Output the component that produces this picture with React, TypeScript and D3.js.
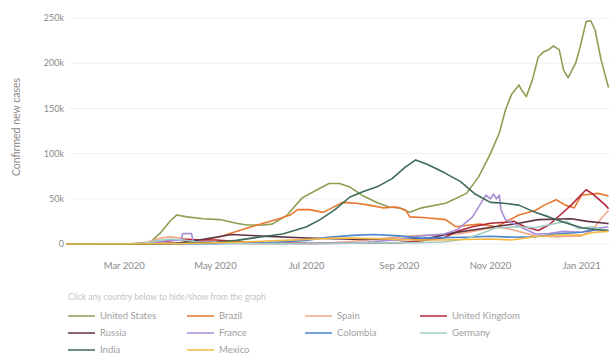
import React from "react";
import * as d3 from "d3";

type Pt = [string, number];

const countries = ["United States", "Brazil", "Spain", "United Kingdom", "Russia", "France", "Colombia", "Germany", "India", "Mexico"];
const colors = ["#8e9d52", "#e8772f", "#f0a888", "#b3263c", "#5e3448", "#a890d8", "#4a84cf", "#a2cbc3", "#3e6a58", "#f4b942"];

const unitedStates: Pt[] = [["2020-01-22",0],["2020-03-05",0.3],["2020-03-18",1.5],["2020-03-25",12],["2020-04-01",26],["2020-04-05",32],["2020-04-12",30],["2020-04-23",28],["2020-05-04",27],["2020-05-15",23],["2020-05-22",21],["2020-06-02",21],["2020-06-08",22],["2020-06-18",32],["2020-06-28",51],["2020-07-08",60],["2020-07-16",67],["2020-07-23",67],["2020-07-30",63],["2020-08-07",54],["2020-08-17",46],["2020-08-25",41],["2020-09-01",40],["2020-09-08",35],["2020-09-16",40],["2020-10-02",45],["2020-10-16",56],["2020-10-24",74],["2020-11-01",100],["2020-11-07",123],["2020-11-11",148],["2020-11-15",165],["2020-11-20",176],["2020-11-22",170],["2020-11-25",163],["2020-11-29",181],["2020-12-03",207],["2020-12-07",213],["2020-12-10",215],["2020-12-13",219],["2020-12-17",215],["2020-12-20",192],["2020-12-23",184],["2020-12-28",200],["2020-12-31",218],["2021-01-04",246],["2021-01-07",247],["2021-01-10",237],["2021-01-14",204],["2021-01-19",173]];
const brazil: Pt[] = [["2020-01-22",0],["2020-03-20",0.1],["2020-04-05",1],["2020-04-20",3],["2020-05-04",8],["2020-05-17",15],["2020-06-02",23],["2020-06-11",27],["2020-06-20",32],["2020-06-25",38],["2020-07-03",38],["2020-07-12",35],["2020-07-18",40],["2020-07-25",46],["2020-08-03",45],["2020-08-12",43],["2020-08-21",40],["2020-08-30",41],["2020-09-05",38],["2020-09-08",30],["2020-09-19",29],["2020-10-02",27],["2020-10-09",19],["2020-10-18",21],["2020-10-25",22],["2020-11-05",19],["2020-11-12",25],["2020-11-20",32],["2020-12-01",37],["2020-12-07",43],["2020-12-15",49],["2020-12-21",43],["2020-12-27",40],["2021-01-01",54],["2021-01-12",56],["2021-01-19",53]];
const spain: Pt[] = [["2020-01-22",0],["2020-03-08",0.1],["2020-03-15",1.5],["2020-03-25",6.5],["2020-04-01",8],["2020-04-10",6],["2020-04-20",4],["2020-05-01",1.5],["2020-06-01",0.3],["2020-07-15",1],["2020-08-01",3],["2020-08-20",6],["2020-09-10",9],["2020-09-25",10],["2020-10-10",11],["2020-10-20",14],["2020-11-05",19],["2020-11-15",16],["2020-12-01",9],["2020-12-15",8],["2021-01-01",9],["2021-01-08",15],["2021-01-14",28],["2021-01-19",37]];
const unitedKingdom: Pt[] = [["2020-01-22",0],["2020-03-10",0.1],["2020-03-25",2.5],["2020-04-10",5],["2020-05-01",4.5],["2020-05-20",2.5],["2020-06-10",1.2],["2020-07-01",0.7],["2020-08-01",0.8],["2020-09-01",1.5],["2020-09-15",3.5],["2020-10-01",7],["2020-10-10",14],["2020-10-20",19],["2020-11-01",23],["2020-11-11",24],["2020-11-17",25],["2020-11-24",19],["2020-12-03",15],["2020-12-10",21],["2020-12-19",34],["2020-12-25",43],["2021-01-04",60],["2021-01-08",56],["2021-01-17",43],["2021-01-19",39]];
const russia: Pt[] = [["2020-01-22",0],["2020-03-20",0.05],["2020-04-05",0.8],["2020-04-20",4.5],["2020-05-01",7.5],["2020-05-12",10.5],["2020-06-01",8.7],["2020-07-01",6.6],["2020-08-01",5.4],["2020-09-01",4.8],["2020-09-20",6.2],["2020-10-06",12],["2020-10-20",15.5],["2020-11-04",19],["2020-11-20",23],["2020-12-03",27],["2020-12-25",28],["2021-01-05",25],["2021-01-17",23],["2021-01-19",22.5]];
const france: Pt[] = [["2020-01-22",0],["2020-03-10",0.3],["2020-03-20",1.5],["2020-04-01",4.5],["2020-04-08",4.2],["2020-04-09",11.5],["2020-04-15",11.5],["2020-04-16",2.8],["2020-05-01",1.2],["2020-06-01",0.5],["2020-07-01",0.6],["2020-08-01",1.2],["2020-08-15",2.5],["2020-09-01",5],["2020-09-15",9],["2020-10-01",11],["2020-10-10",16],["2020-10-20",30],["2020-10-29",54],["2020-11-01",50],["2020-11-03",55],["2020-11-05",50],["2020-11-07",54],["2020-11-08",38],["2020-11-11",27],["2020-11-20",20],["2020-12-01",11],["2020-12-10",11.5],["2020-12-20",14],["2021-01-01",13],["2021-01-10",17],["2021-01-19",19]];
const colombia: Pt[] = [["2020-01-22",0],["2020-04-01",0.1],["2020-05-01",0.3],["2020-06-01",1],["2020-06-15",2.5],["2020-07-01",4],["2020-07-15",7.5],["2020-08-01",9.5],["2020-08-15",10.5],["2020-09-01",9],["2020-09-15",6.5],["2020-10-01",7],["2020-10-15",7.5],["2020-11-01",8.5],["2020-11-15",7.5],["2020-12-01",8],["2020-12-15",11],["2021-01-01",13],["2021-01-12",16],["2021-01-19",15]];
const germany: Pt[] = [["2020-01-22",0],["2020-03-05",0.1],["2020-03-15",1],["2020-03-25",4],["2020-04-01",5.5],["2020-04-10",4.5],["2020-04-20",2],["2020-05-10",0.8],["2020-06-10",0.4],["2020-07-15",0.5],["2020-08-15",1.2],["2020-09-15",1.5],["2020-10-01",2.2],["2020-10-15",5.5],["2020-10-25",11],["2020-11-05",18],["2020-11-20",19],["2020-12-01",18],["2020-12-15",23],["2020-12-22",25],["2020-12-30",17],["2021-01-08",19],["2021-01-19",14]];
const india: Pt[] = [["2020-01-22",0],["2020-03-20",0],["2020-04-15",1],["2020-05-01",2],["2020-05-15",4],["2020-06-01",8],["2020-06-15",11],["2020-07-01",19],["2020-07-10",27],["2020-07-20",38],["2020-07-30",52],["2020-08-08",58],["2020-08-18",64],["2020-08-27",72],["2020-09-05",85],["2020-09-12",93],["2020-09-20",88],["2020-10-01",79],["2020-10-12",69],["2020-10-22",55],["2020-11-01",46],["2020-11-10",45],["2020-11-20",43],["2020-12-01",35],["2020-12-10",30],["2020-12-20",24],["2021-01-01",18],["2021-01-10",16],["2021-01-19",15]];
const mexico: Pt[] = [["2020-01-22",0],["2020-04-01",0.2],["2020-04-15",0.5],["2020-05-01",1.3],["2020-05-15",2],["2020-06-01",3],["2020-06-15",4],["2020-07-01",5],["2020-07-20",6.5],["2020-08-01",6.5],["2020-08-15",6],["2020-09-01",5],["2020-09-15",4.5],["2020-10-01",4.5],["2020-10-15",5],["2020-11-01",5.5],["2020-11-15",4.5],["2020-12-01",8],["2020-12-15",10],["2021-01-01",10],["2021-01-10",13],["2021-01-19",14]];

const seriesData: Pt[][] = [unitedStates, brazil, spain, unitedKingdom, russia, france, colombia, germany, india, mexico];

const yTicks = [0, 50, 100, 150, 200, 250];
const xTicks = ["2020-03-01", "2020-05-01", "2020-07-01", "2020-09-01", "2020-11-01", "2021-01-01"];
const yTitle = "Confirmed new cases";
const legendNote = "Click any country below to hide/show from the graph";

const parse = d3.timeParse("%Y-%m-%d");
const fmtMonth = d3.timeFormat("%b %Y");
const FONT = "Lato, 'Open Sans', sans-serif";

export default function App() {
  const x = d3.scaleTime().domain([parse("2020-01-22")!, parse("2021-01-20")!]).range([66, 610]);
  const y = d3.scaleLinear().domain([0, 250]).range([244, 18]);
  const line = d3.line<Pt>().x(d => x(parse(d[0])!)).y(d => y(d[1]));

  const colX = [68, 187, 305, 420];
  const rowY = [316, 333, 350];

  return (
    <svg width={612} height={358} style={{ position: "absolute", left: 0, top: 0, background: "#fff" }} fontFamily={FONT}>
      {yTicks.map(t => (
        <g key={t}>
          <line x1={70} x2={610} y1={y(t)} y2={y(t)} stroke="#efefef" strokeWidth={1} />
          <text x={64} y={y(t)} dy="0.35em" textAnchor="end" fontSize={9} fill="#8a8a8a">{t === 0 ? "0" : `${t}k`}</text>
        </g>
      ))}
      <text transform={`translate(20,127) rotate(-90)`} textAnchor="middle" fontSize={10.5} fill="#8a8a8a">{yTitle}</text>
      {xTicks.map(s => (
        <text key={s} x={x(parse(s)!)} y={269} textAnchor="middle" fontSize={9.5} fill="#8a8a8a">{fmtMonth(parse(s)!)}</text>
      ))}
      {seriesData.map((d, i) => (
        <path key={countries[i]} d={line(d) || ""} fill="none" stroke={colors[i]} strokeWidth={1.6} strokeLinejoin="round" />
      ))}
      <text x={68} y={300} fontSize={8.5} fill="#c4c4c4">{legendNote}</text>
      {countries.map((c, i) => {
        const cx = colX[i % 4];
        const cy = rowY[Math.floor(i / 4)];
        return (
          <g key={c}>
            <line x1={cx} x2={cx + 27} y1={cy} y2={cy} stroke={colors[i]} strokeWidth={2} opacity={0.75} />
            <text x={cx + 32} y={cy} dy="0.35em" fontSize={9.5} fill="#a0a0a0">{c}</text>
          </g>
        );
      })}
    </svg>
  );
}
